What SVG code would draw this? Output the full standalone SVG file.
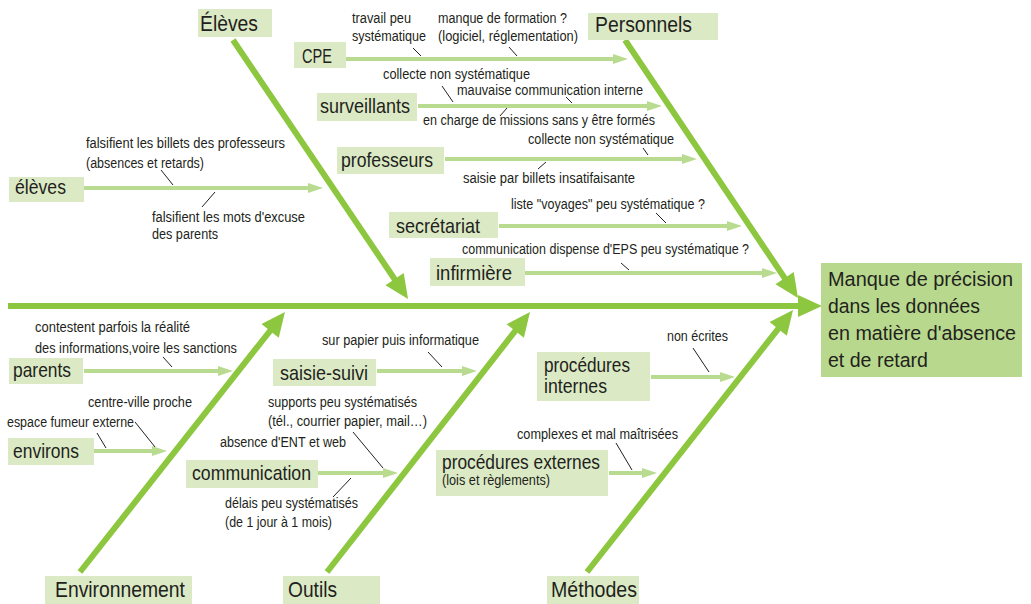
<svg xmlns="http://www.w3.org/2000/svg" width="1031" height="604" viewBox="0 0 1031 604">
<style>
text{font-family:"Liberation Sans",Arial,sans-serif;fill:#231f20}
.cat{fill:#dbeac5}
.sub{fill:#dbeac5}
.eff{fill:#b8d98d}
.tc{font-size:22px}
.ts{font-size:21px}
.te{font-size:20.5px}
.tn{font-size:14px}
.bone{stroke:#8dc63f;stroke-width:6;fill:none;marker-end:url(#big)}
.arr{stroke:#b8db8f;stroke-width:4;fill:none;marker-end:url(#small)}
.tick{stroke:#231f20;stroke-width:1;fill:none}
</style>
<defs>
<marker id="big" markerUnits="userSpaceOnUse" viewBox="-5 -12 26 24" refX="0" refY="0" markerWidth="26" markerHeight="24" orient="auto" overflow="visible">
<path d="M-5,-11 L19,0 L-5,11 z" fill="#8dc63f"/>
</marker>
<marker id="small" markerUnits="userSpaceOnUse" viewBox="-4 -6 17 12" refX="0" refY="0" markerWidth="17" markerHeight="12" orient="auto" overflow="visible">
<path d="M-3,-5 L12,0 L-3,5 z" fill="#b8db8f"/>
</marker>
</defs>

<g id="connectors">
<line class="bone" x1="8" y1="306" x2="803" y2="306"/>
<line class="bone" x1="233" y1="40" x2="397.4" y2="283.2"/>
<line class="bone" x1="625" y1="40" x2="787.4" y2="282.2"/>
<line class="bone" x1="80" y1="572" x2="273.2" y2="326.9"/>
<line class="bone" x1="327" y1="572" x2="518.3" y2="327"/>
<line class="bone" x1="587" y1="572" x2="781.3" y2="324.9"/>

<line class="arr" x1="84" y1="188" x2="311" y2="188"/>
<line class="arr" x1="346" y1="59" x2="616" y2="59"/>
<line class="arr" x1="418" y1="106" x2="650" y2="106"/>
<line class="arr" x1="445" y1="159" x2="685" y2="159"/>
<line class="arr" x1="499" y1="226" x2="730" y2="226"/>
<line class="arr" x1="525" y1="273" x2="765" y2="273"/>
<line class="arr" x1="84" y1="371" x2="221" y2="371"/>
<line class="arr" x1="94" y1="451" x2="155" y2="451"/>
<line class="arr" x1="377" y1="371" x2="465" y2="371"/>
<line class="arr" x1="318" y1="473" x2="386" y2="473"/>
<line class="arr" x1="651" y1="377" x2="723" y2="377"/>
<line class="arr" x1="609" y1="473" x2="645" y2="473"/>

<line class="tick" x1="161" y1="170" x2="173" y2="185"/>
<line class="tick" x1="215" y1="192" x2="202" y2="207"/>
<line class="tick" x1="413" y1="48" x2="421" y2="56"/>
<line class="tick" x1="509" y1="47" x2="517" y2="56"/>
<line class="tick" x1="442" y1="86" x2="453" y2="102"/>
<line class="tick" x1="566" y1="97" x2="572" y2="103"/>
<line class="tick" x1="507" y1="108" x2="500" y2="116"/>
<line class="tick" x1="643" y1="148" x2="648" y2="155"/>
<line class="tick" x1="546" y1="162" x2="538" y2="169"/>
<line class="tick" x1="656" y1="213" x2="666" y2="223"/>
<line class="tick" x1="621" y1="263" x2="629" y2="270"/>
<line class="tick" x1="163" y1="357" x2="172" y2="367"/>
<line class="tick" x1="97" y1="433" x2="106" y2="448"/>
<line class="tick" x1="135" y1="422" x2="155" y2="447"/>
<line class="tick" x1="428" y1="352" x2="442" y2="367"/>
<line class="tick" x1="353" y1="432" x2="383" y2="468"/>
<line class="tick" x1="333" y1="497" x2="351" y2="478"/>
<line class="tick" x1="693" y1="348" x2="709" y2="372"/>
<line class="tick" x1="616" y1="443" x2="632" y2="470"/>
</g>

<g id="labels">
<text class="tn" x="86" y="148" textLength="199" lengthAdjust="spacingAndGlyphs">falsifient les billets des professeurs</text>
<text class="tn" x="86" y="168" textLength="118" lengthAdjust="spacingAndGlyphs">(absences et retards)</text>
<text class="tn" x="152" y="222" textLength="153" lengthAdjust="spacingAndGlyphs">falsifient les mots d'excuse</text>
<text class="tn" x="152" y="239" textLength="66" lengthAdjust="spacingAndGlyphs">des parents</text>
<text class="tn" x="352" y="23" textLength="59" lengthAdjust="spacingAndGlyphs">travail peu</text>
<text class="tn" x="352" y="41" textLength="74" lengthAdjust="spacingAndGlyphs">systématique</text>
<text class="tn" x="438" y="23" textLength="129" lengthAdjust="spacingAndGlyphs">manque de formation ?</text>
<text class="tn" x="438" y="41" textLength="140" lengthAdjust="spacingAndGlyphs">(logiciel, réglementation)</text>
<text class="tn" x="383" y="79" textLength="147" lengthAdjust="spacingAndGlyphs">collecte non systématique</text>
<text class="tn" x="457" y="95" textLength="186" lengthAdjust="spacingAndGlyphs">mauvaise communication interne</text>
<text class="tn" x="423" y="125" textLength="232" lengthAdjust="spacingAndGlyphs">en charge de missions sans y être formés</text>
<text class="tn" x="528" y="144" textLength="146" lengthAdjust="spacingAndGlyphs">collecte non systématique</text>
<text class="tn" x="463" y="183" textLength="172" lengthAdjust="spacingAndGlyphs">saisie par billets insatifaisante</text>
<text class="tn" x="511" y="209" textLength="194" lengthAdjust="spacingAndGlyphs">liste "voyages" peu systématique ?</text>
<text class="tn" x="462" y="254" textLength="287" lengthAdjust="spacingAndGlyphs">communication dispense d'EPS peu systématique ?</text>
<text class="tn" x="35" y="332" textLength="155" lengthAdjust="spacingAndGlyphs">contestent parfois la réalité</text>
<text class="tn" x="35" y="353" textLength="202" lengthAdjust="spacingAndGlyphs">des informations,voire les sanctions</text>
<text class="tn" x="88" y="407" textLength="104" lengthAdjust="spacingAndGlyphs">centre-ville proche</text>
<text class="tn" x="7" y="427" textLength="127" lengthAdjust="spacingAndGlyphs">espace fumeur externe</text>
<text class="tn" x="322" y="345" textLength="157" lengthAdjust="spacingAndGlyphs">sur papier puis informatique</text>
<text class="tn" x="268" y="407" textLength="149" lengthAdjust="spacingAndGlyphs">supports peu systématisés</text>
<text class="tn" x="268" y="426" textLength="159" lengthAdjust="spacingAndGlyphs">(tél., courrier papier, mail…)</text>
<text class="tn" x="220" y="447" textLength="126" lengthAdjust="spacingAndGlyphs">absence d'ENT et web</text>
<text class="tn" x="225" y="508" textLength="133" lengthAdjust="spacingAndGlyphs">délais peu systématisés</text>
<text class="tn" x="225" y="527" textLength="107" lengthAdjust="spacingAndGlyphs">(de 1 jour à 1 mois)</text>
<text class="tn" x="667" y="341" textLength="61" lengthAdjust="spacingAndGlyphs">non écrites</text>
<text class="tn" x="517" y="439" textLength="161" lengthAdjust="spacingAndGlyphs">complexes et mal maîtrisées</text>
</g>

<g id="cat-eleves"><rect class="cat" x="198" y="9" width="74" height="28"/><text class="tc" x="200" y="31" textLength="58" lengthAdjust="spacingAndGlyphs">Élèves</text></g>
<g id="cat-personnels"><rect class="cat" x="588" y="13" width="130" height="27"/><text class="tc" x="595" y="32" textLength="97" lengthAdjust="spacingAndGlyphs">Personnels</text></g>
<g id="cat-environnement"><rect class="cat" x="45" y="576" width="147" height="28"/><text class="tc" x="55" y="597" textLength="130" lengthAdjust="spacingAndGlyphs">Environnement</text></g>
<g id="cat-outils"><rect class="cat" x="283" y="576" width="97" height="28"/><text class="tc" x="288" y="597" textLength="49" lengthAdjust="spacingAndGlyphs">Outils</text></g>
<g id="cat-methodes"><rect class="cat" x="547" y="576" width="92" height="28"/><text class="tc" x="551" y="597" textLength="86" lengthAdjust="spacingAndGlyphs">Méthodes</text></g>

<g id="sub-eleves"><rect class="sub" x="9" y="177" width="75" height="25"/><text class="ts" x="15" y="194" textLength="51" lengthAdjust="spacingAndGlyphs">élèves</text></g>
<g id="sub-cpe"><rect class="sub" x="294" y="42" width="52" height="26"/><text class="ts" x="302" y="63" textLength="30" lengthAdjust="spacingAndGlyphs">CPE</text></g>
<g id="sub-surveillants"><rect class="sub" x="317" y="93" width="100" height="28"/><text class="ts" x="320" y="113" textLength="90" lengthAdjust="spacingAndGlyphs">surveillants</text></g>
<g id="sub-professeurs"><rect class="sub" x="337" y="147" width="107" height="27"/><text class="ts" x="341" y="167" textLength="92" lengthAdjust="spacingAndGlyphs">professeurs</text></g>
<g id="sub-secretariat"><rect class="sub" x="389" y="212" width="109" height="26"/><text class="ts" x="396" y="233" textLength="84" lengthAdjust="spacingAndGlyphs">secrétariat</text></g>
<g id="sub-infirmiere"><rect class="sub" x="430" y="258" width="95" height="28"/><text class="ts" x="436" y="280" textLength="76" lengthAdjust="spacingAndGlyphs">infirmière</text></g>
<g id="sub-parents"><rect class="sub" x="9" y="358" width="74" height="26"/><text class="ts" x="13" y="377" textLength="58" lengthAdjust="spacingAndGlyphs">parents</text></g>
<g id="sub-environs"><rect class="sub" x="8" y="438" width="86" height="27"/><text class="ts" x="13" y="458" textLength="66" lengthAdjust="spacingAndGlyphs">environs</text></g>
<g id="sub-saisie"><rect class="sub" x="273" y="359" width="103" height="27"/><text class="ts" x="280" y="380" textLength="88" lengthAdjust="spacingAndGlyphs">saisie-suivi</text></g>
<g id="sub-communication"><rect class="sub" x="186" y="460" width="132" height="28"/><text class="ts" x="192" y="480" textLength="119" lengthAdjust="spacingAndGlyphs">communication</text></g>
<g id="sub-procedures-internes"><rect class="sub" x="537" y="352" width="113" height="49"/><text class="ts" x="544" y="372" textLength="86" lengthAdjust="spacingAndGlyphs">procédures</text><text class="ts" x="544" y="393" textLength="63" lengthAdjust="spacingAndGlyphs">internes</text></g>
<g id="sub-procedures-externes"><rect class="sub" x="436" y="450" width="172" height="46"/><text class="ts" x="442" y="469" textLength="158" lengthAdjust="spacingAndGlyphs">procédures externes</text><text class="tn" x="442" y="485" textLength="108" lengthAdjust="spacingAndGlyphs">(lois et règlements)</text></g>

<g id="effect"><rect class="eff" x="821" y="263" width="201" height="114"/>
<text class="te" x="828" y="286" textLength="185" lengthAdjust="spacingAndGlyphs">Manque de précision</text>
<text class="te" x="828" y="313" textLength="152" lengthAdjust="spacingAndGlyphs">dans les données</text>
<text class="te" x="828" y="340" textLength="188" lengthAdjust="spacingAndGlyphs">en matière d'absence</text>
<text class="te" x="828" y="367" textLength="100" lengthAdjust="spacingAndGlyphs">et de retard</text>
</g>
</svg>
